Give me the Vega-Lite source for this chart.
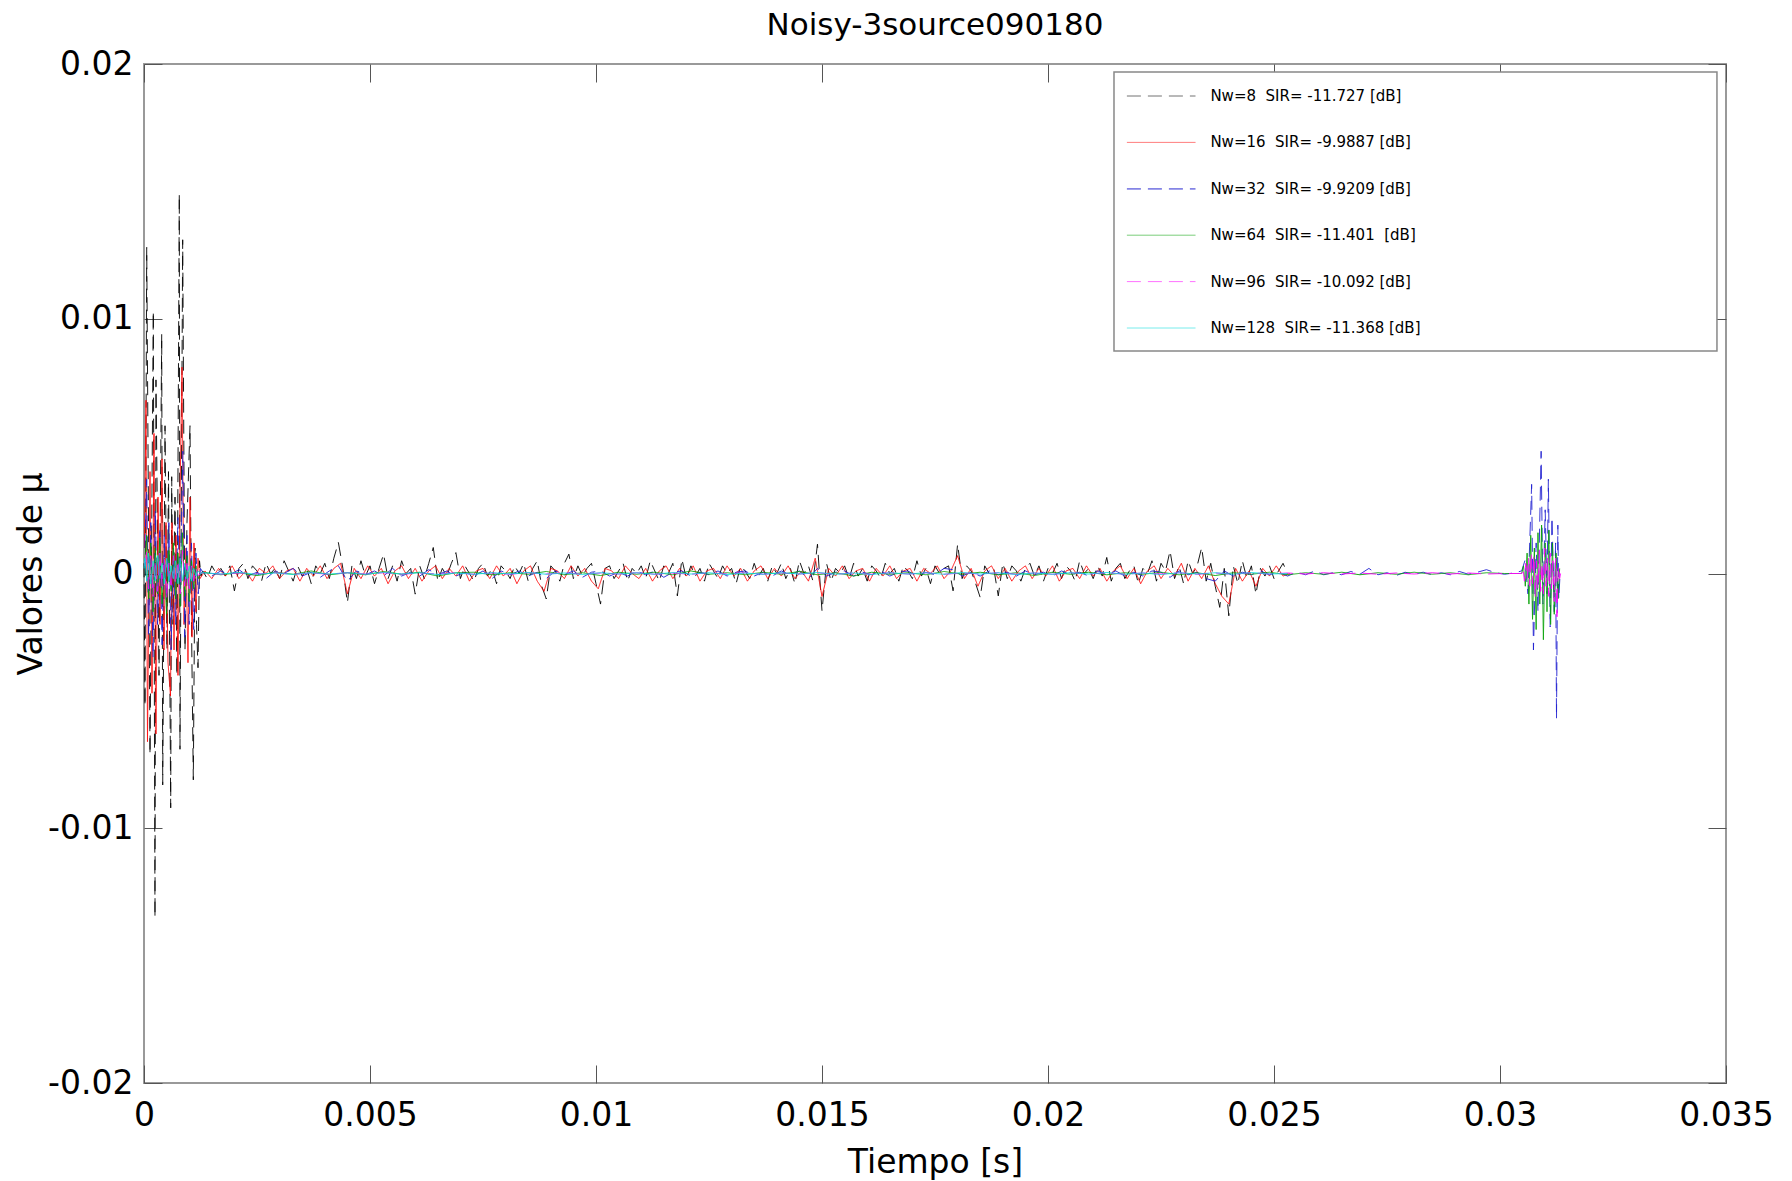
{
"$schema": "https://vega.github.io/schema/vega-lite/v6.json",
"width": 1582,
"height": 1019,
"autosize": {"type": "none"},
"padding": {"left": 144, "top": 64, "right": 66, "bottom": 98},
"background": "white",
"title": {"text": "Noisy-3source090180", "fontSize": 31, "font": "DejaVu Sans", "fontWeight": "normal", "color": "#000000", "anchor": "middle", "frame": "group", "offset": 14, "dy": 32, "baseline": "alphabetic"},
"config": {
  "view": {"stroke": "#999999", "strokeWidth": 2},
  "font": "DejaVu Sans",
  "axis": {"grid": false, "domain": false, "labelFont": "DejaVu Sans", "titleFont": "DejaVu Sans", "labelFontSize": 33, "titleFontSize": 33, "labelColor": "#000000", "titleColor": "#000000", "titleFontWeight": "normal", "tickColor": "#555555", "tickWidth": 1, "tickSize": -18, "labelFlush": false, "labelOverlap": false}
},
"resolve": {"axis": {"x": "independent", "y": "independent"}},
"layer": [
{
"data": {"values": [{}]},
"mark": {"type": "rect", "fill": "white", "stroke": "#888888", "strokeWidth": 1.5},
"encoding": {
  "x": {"datum": 0.02146, "type": "quantitative", "axis": null},
  "x2": {"datum": 0.0348},
  "y": {"datum": 0.019686, "type": "quantitative", "axis": null},
  "y2": {"datum": 0.008734}
}
},
{
"data": {"values": [
{"s":"a","t":0,"v":0.0004},
{"s":"a","t":0.000022,"v":-0.0052},
{"s":"a","t":0.00006,"v":0.0128},
{"s":"a","t":0.000133,"v":-0.0071},
{"s":"a","t":0.000206,"v":0.0103},
{"s":"a","t":0.000243,"v":-0.0135},
{"s":"a","t":0.000265,"v":0.0076},
{"s":"a","t":0.000332,"v":-0.004},
{"s":"a","t":0.000392,"v":0.0094},
{"s":"a","t":0.000414,"v":-0.0083},
{"s":"a","t":0.000465,"v":0.0058},
{"s":"a","t":0.000509,"v":-0.003},
{"s":"a","t":0.000542,"v":0.004},
{"s":"a","t":0.000591,"v":-0.0092},
{"s":"a","t":0.000613,"v":0.0038},
{"s":"a","t":0.000642,"v":-0.002},
{"s":"a","t":0.000686,"v":0.003},
{"s":"a","t":0.00073,"v":-0.004},
{"s":"a","t":0.000781,"v":0.0149},
{"s":"a","t":0.000796,"v":-0.0069},
{"s":"a","t":0.000856,"v":0.0131},
{"s":"a","t":0.000907,"v":-0.003},
{"s":"a","t":0.000951,"v":0.002},
{"s":"a","t":0.001018,"v":0.0058},
{"s":"a","t":0.001051,"v":-0.002},
{"s":"a","t":0.001091,"v":-0.0081},
{"s":"a","t":0.001128,"v":0.001},
{"s":"a","t":0.001162,"v":-0.002},
{"s":"a","t":0.001195,"v":-0.0037},
{"s":"a","t":0.001228,"v":0.0005},
{"s":"a","t":0.001261,"v":-0.0001},
{"s":"a","t":0.0013,"v":0.0001},
{"s":"a","t":0.0014,"v":-0.0002},
{"s":"a","t":0.0015,"v":0.0003},
{"s":"a","t":0.0016,"v":0},
{"s":"a","t":0.0017,"v":0.0002},
{"s":"a","t":0.0018,"v":-0.0001},
{"s":"a","t":0.0019,"v":0.0003},
{"s":"a","t":0.002,"v":-0.00068},
{"s":"a","t":0.0021,"v":0.0002},
{"s":"a","t":0.0022,"v":0.0004},
{"s":"a","t":0.0023,"v":-0.0002},
{"s":"a","t":0.0024,"v":0.0003},
{"s":"a","t":0.0025,"v":0.0001},
{"s":"a","t":0.0026,"v":-0.0003},
{"s":"a","t":0.0027,"v":0.0004},
{"s":"a","t":0.0028,"v":0},
{"s":"a","t":0.0029,"v":0.0002},
{"s":"a","t":0.003,"v":-0.0002},
{"s":"a","t":0.0031,"v":0.0005},
{"s":"a","t":0.0032,"v":0.0001},
{"s":"a","t":0.0033,"v":-0.0003},
{"s":"a","t":0.0034,"v":0.0003},
{"s":"a","t":0.0035,"v":-0.0001},
{"s":"a","t":0.0036,"v":0.0002},
{"s":"a","t":0.0037,"v":-0.0004},
{"s":"a","t":0.0038,"v":0.0003},
{"s":"a","t":0.0039,"v":0},
{"s":"a","t":0.004,"v":0.0004},
{"s":"a","t":0.0041,"v":-0.0002},
{"s":"a","t":0.0042,"v":0.0006},
{"s":"a","t":0.0043,"v":0.00122},
{"s":"a","t":0.0044,"v":0.0002},
{"s":"a","t":0.0045,"v":-0.00114},
{"s":"a","t":0.0046,"v":0.0003},
{"s":"a","t":0.0047,"v":-0.0002},
{"s":"a","t":0.0048,"v":0.0005},
{"s":"a","t":0.0049,"v":-0.0001},
{"s":"a","t":0.005,"v":0.0003},
{"s":"a","t":0.0051,"v":-0.0004},
{"s":"a","t":0.0052,"v":0.0002},
{"s":"a","t":0.0053,"v":0.00076},
{"s":"a","t":0.0054,"v":-0.0002},
{"s":"a","t":0.0055,"v":0.0003},
{"s":"a","t":0.0056,"v":-0.0003},
{"s":"a","t":0.0057,"v":0.0005},
{"s":"a","t":0.0058,"v":0},
{"s":"a","t":0.0059,"v":0.0002},
{"s":"a","t":0.006,"v":-0.00081},
{"s":"a","t":0.0061,"v":0.0003},
{"s":"a","t":0.0062,"v":-0.0002},
{"s":"a","t":0.0063,"v":0.0004},
{"s":"a","t":0.0064,"v":0.00102},
{"s":"a","t":0.0065,"v":-0.0003},
{"s":"a","t":0.0066,"v":0.0002},
{"s":"a","t":0.0067,"v":-0.0001},
{"s":"a","t":0.0068,"v":0.0004},
{"s":"a","t":0.0069,"v":0.00082},
{"s":"a","t":0.007,"v":-0.0002},
{"s":"a","t":0.0071,"v":0.0003},
{"s":"a","t":0.0072,"v":0},
{"s":"a","t":0.0073,"v":-0.0003},
{"s":"a","t":0.0074,"v":0.0002},
{"s":"a","t":0.0075,"v":0.0004},
{"s":"a","t":0.0076,"v":-0.0001},
{"s":"a","t":0.0077,"v":0.0002},
{"s":"a","t":0.0078,"v":-0.0004},
{"s":"a","t":0.0079,"v":0.0003},
{"s":"a","t":0.008,"v":0.0001},
{"s":"a","t":0.0081,"v":-0.0002},
{"s":"a","t":0.0082,"v":0.0003},
{"s":"a","t":0.0083,"v":0},
{"s":"a","t":0.0084,"v":0.0004},
{"s":"a","t":0.0085,"v":-0.0003},
{"s":"a","t":0.0086,"v":0.0002},
{"s":"a","t":0.0087,"v":0.0005},
{"s":"a","t":0.0088,"v":-0.0005},
{"s":"a","t":0.0089,"v":-0.001},
{"s":"a","t":0.009,"v":0.0003},
{"s":"a","t":0.0091,"v":0.0001},
{"s":"a","t":0.0092,"v":-0.0003},
{"s":"a","t":0.0093,"v":0.0004},
{"s":"a","t":0.0094,"v":0.00076},
{"s":"a","t":0.0095,"v":-0.0002},
{"s":"a","t":0.0096,"v":0.0003},
{"s":"a","t":0.0097,"v":-0.0001},
{"s":"a","t":0.0098,"v":0.0002},
{"s":"a","t":0.0099,"v":0.0004},
{"s":"a","t":0.01,"v":-0.0004},
{"s":"a","t":0.0101,"v":-0.0012},
{"s":"a","t":0.0102,"v":0.0002},
{"s":"a","t":0.0103,"v":0.0003},
{"s":"a","t":0.0104,"v":-0.0002},
{"s":"a","t":0.0105,"v":0.0001},
{"s":"a","t":0.0106,"v":0.0004},
{"s":"a","t":0.0107,"v":-0.0003},
{"s":"a","t":0.0108,"v":0.0002},
{"s":"a","t":0.0109,"v":0},
{"s":"a","t":0.011,"v":0.0003},
{"s":"a","t":0.0111,"v":-0.0002},
{"s":"a","t":0.0112,"v":0.0005},
{"s":"a","t":0.0113,"v":0.0001},
{"s":"a","t":0.0114,"v":-0.0003},
{"s":"a","t":0.0115,"v":0.0003},
{"s":"a","t":0.0116,"v":0},
{"s":"a","t":0.0117,"v":0.0004},
{"s":"a","t":0.0118,"v":-0.00088},
{"s":"a","t":0.0119,"v":0.00056},
{"s":"a","t":0.012,"v":-0.0002},
{"s":"a","t":0.0121,"v":0.0003},
{"s":"a","t":0.0122,"v":-0.0001},
{"s":"a","t":0.0123,"v":0.0002},
{"s":"a","t":0.0124,"v":-0.0003},
{"s":"a","t":0.0125,"v":0.0004},
{"s":"a","t":0.0126,"v":0.0001},
{"s":"a","t":0.0127,"v":-0.0002},
{"s":"a","t":0.0128,"v":0.0003},
{"s":"a","t":0.0129,"v":0},
{"s":"a","t":0.013,"v":0.0002},
{"s":"a","t":0.0131,"v":-0.0004},
{"s":"a","t":0.0132,"v":0.0003},
{"s":"a","t":0.0133,"v":0.0001},
{"s":"a","t":0.0134,"v":-0.0002},
{"s":"a","t":0.0135,"v":0.0004},
{"s":"a","t":0.0136,"v":-0.0001},
{"s":"a","t":0.0137,"v":0.0002},
{"s":"a","t":0.0138,"v":-0.0003},
{"s":"a","t":0.0139,"v":0.0003},
{"s":"a","t":0.014,"v":0},
{"s":"a","t":0.0141,"v":0.0004},
{"s":"a","t":0.0142,"v":-0.0002},
{"s":"a","t":0.0143,"v":0.0002},
{"s":"a","t":0.0144,"v":-0.0004},
{"s":"a","t":0.0145,"v":0.0005},
{"s":"a","t":0.0146,"v":0},
{"s":"a","t":0.0147,"v":0.0003},
{"s":"a","t":0.0148,"v":-0.0003},
{"s":"a","t":0.0149,"v":0.00115},
{"s":"a","t":0.015,"v":-0.00147},
{"s":"a","t":0.0151,"v":0.0004},
{"s":"a","t":0.0152,"v":-0.0003},
{"s":"a","t":0.0153,"v":0.0002},
{"s":"a","t":0.0154,"v":0},
{"s":"a","t":0.0155,"v":0.0003},
{"s":"a","t":0.0156,"v":-0.0002},
{"s":"a","t":0.0157,"v":0.0004},
{"s":"a","t":0.0158,"v":-0.0001},
{"s":"a","t":0.0159,"v":0.0002},
{"s":"a","t":0.016,"v":-0.0003},
{"s":"a","t":0.0161,"v":0.0003},
{"s":"a","t":0.0162,"v":0.0001},
{"s":"a","t":0.0163,"v":-0.0002},
{"s":"a","t":0.0164,"v":0.0004},
{"s":"a","t":0.0165,"v":0},
{"s":"a","t":0.0166,"v":0.0002},
{"s":"a","t":0.0167,"v":-0.0003},
{"s":"a","t":0.0168,"v":0.0003},
{"s":"a","t":0.0169,"v":0.0001},
{"s":"a","t":0.017,"v":-0.0002},
{"s":"a","t":0.0171,"v":0.0005},
{"s":"a","t":0.0172,"v":-0.0001},
{"s":"a","t":0.0173,"v":0.0002},
{"s":"a","t":0.0174,"v":-0.0004},
{"s":"a","t":0.0175,"v":0.0003},
{"s":"a","t":0.0176,"v":0},
{"s":"a","t":0.0177,"v":0.0002},
{"s":"a","t":0.0178,"v":0.0003},
{"s":"a","t":0.0179,"v":-0.00068},
{"s":"a","t":0.018,"v":0.00115},
{"s":"a","t":0.0181,"v":-0.0002},
{"s":"a","t":0.0182,"v":0.0003},
{"s":"a","t":0.0183,"v":0.0001},
{"s":"a","t":0.0184,"v":-0.0004},
{"s":"a","t":0.0185,"v":-0.00094},
{"s":"a","t":0.0186,"v":0.0003},
{"s":"a","t":0.0187,"v":0},
{"s":"a","t":0.0188,"v":0.0002},
{"s":"a","t":0.0189,"v":-0.00088},
{"s":"a","t":0.019,"v":0.0004},
{"s":"a","t":0.0191,"v":-0.0002},
{"s":"a","t":0.0192,"v":0.0003},
{"s":"a","t":0.0193,"v":0.0001},
{"s":"a","t":0.0194,"v":-0.0003},
{"s":"a","t":0.0195,"v":0.0002},
{"s":"a","t":0.0196,"v":0.0004},
{"s":"a","t":0.0197,"v":-0.0001},
{"s":"a","t":0.0198,"v":0.0003},
{"s":"a","t":0.0199,"v":-0.0003},
{"s":"a","t":0.02,"v":0.0002},
{"s":"a","t":0.0201,"v":0},
{"s":"a","t":0.0202,"v":0.0004},
{"s":"a","t":0.0203,"v":-0.0002},
{"s":"a","t":0.0204,"v":0.0003},
{"s":"a","t":0.0205,"v":0.0001},
{"s":"a","t":0.0206,"v":-0.0003},
{"s":"a","t":0.0207,"v":0.0005},
{"s":"a","t":0.0208,"v":0},
{"s":"a","t":0.0209,"v":0.0002},
{"s":"a","t":0.021,"v":-0.0002},
{"s":"a","t":0.0211,"v":0.0003},
{"s":"a","t":0.0212,"v":-0.0001},
{"s":"a","t":0.0213,"v":0.00063},
{"s":"a","t":0.0214,"v":-0.0003},
{"s":"a","t":0.0215,"v":0.0002},
{"s":"a","t":0.0216,"v":0.0004},
{"s":"a","t":0.0217,"v":-0.0002},
{"s":"a","t":0.0218,"v":0.0001},
{"s":"a","t":0.0219,"v":0.0003},
{"s":"a","t":0.022,"v":-0.0004},
{"s":"a","t":0.0221,"v":0.0002},
{"s":"a","t":0.0222,"v":0},
{"s":"a","t":0.0223,"v":0.0005},
{"s":"a","t":0.0224,"v":-0.0003},
{"s":"a","t":0.0225,"v":0.0004},
{"s":"a","t":0.0226,"v":0.0001},
{"s":"a","t":0.0227,"v":0.00089},
{"s":"a","t":0.0228,"v":-0.0002},
{"s":"a","t":0.0229,"v":0.0003},
{"s":"a","t":0.023,"v":-0.0004},
{"s":"a","t":0.0231,"v":0.0005},
{"s":"a","t":0.0232,"v":0},
{"s":"a","t":0.0233,"v":0.0003},
{"s":"a","t":0.0234,"v":0.00102},
{"s":"a","t":0.0235,"v":-0.0003},
{"s":"a","t":0.0236,"v":0.0004},
{"s":"a","t":0.0237,"v":-0.0005},
{"s":"a","t":0.0238,"v":-0.00133},
{"s":"a","t":0.0239,"v":0.0002},
{"s":"a","t":0.024,"v":-0.00166},
{"s":"a","t":0.0241,"v":0.0003},
{"s":"a","t":0.0242,"v":-0.0004},
{"s":"a","t":0.0243,"v":0.0005},
{"s":"a","t":0.0244,"v":-0.0002},
{"s":"a","t":0.0245,"v":0.0003},
{"s":"a","t":0.0246,"v":-0.00081},
{"s":"a","t":0.0247,"v":0.0002},
{"s":"a","t":0.0248,"v":-0.0001},
{"s":"a","t":0.0249,"v":0.0003},
{"s":"a","t":0.025,"v":-0.0002},
{"s":"a","t":0.0251,"v":0.0001},
{"s":"a","t":0.0252,"v":0.0004},
{"s":"a","t":0.0253,"v":0},
{"s":"b","t":0.00001,"v":0.001},
{"s":"b","t":0.000044,"v":0.0068},
{"s":"b","t":0.000077,"v":-0.0066},
{"s":"b","t":0.000133,"v":0.004},
{"s":"b","t":0.000177,"v":-0.0047},
{"s":"b","t":0.000221,"v":0.0055},
{"s":"b","t":0.000265,"v":-0.0063},
{"s":"b","t":0.00031,"v":0.003},
{"s":"b","t":0.000354,"v":-0.002},
{"s":"b","t":0.000398,"v":0.0045},
{"s":"b","t":0.000442,"v":-0.003},
{"s":"b","t":0.000487,"v":0.002},
{"s":"b","t":0.000531,"v":-0.0035},
{"s":"b","t":0.000586,"v":-0.0048},
{"s":"b","t":0.000619,"v":0.002},
{"s":"b","t":0.000664,"v":-0.003},
{"s":"b","t":0.000708,"v":0.0015},
{"s":"b","t":0.000752,"v":-0.004},
{"s":"b","t":0.000796,"v":0.003},
{"s":"b","t":0.000841,"v":0.0081},
{"s":"b","t":0.000885,"v":-0.002},
{"s":"b","t":0.000929,"v":0.001},
{"s":"b","t":0.000973,"v":-0.0035},
{"s":"b","t":0.001018,"v":0.003},
{"s":"b","t":0.001062,"v":-0.0025},
{"s":"b","t":0.001106,"v":0.0012},
{"s":"b","t":0.00115,"v":-0.0015},
{"s":"b","t":0.001195,"v":0.0006},
{"s":"b","t":0.001239,"v":-0.0002},
{"s":"b","t":0.00135,"v":0.0001},
{"s":"b","t":0.0015,"v":-0.0002},
{"s":"b","t":0.00165,"v":0.0002},
{"s":"b","t":0.0018,"v":-0.0001},
{"s":"b","t":0.00195,"v":0.0003},
{"s":"b","t":0.0021,"v":-0.0002},
{"s":"b","t":0.00225,"v":0.0001},
{"s":"b","t":0.0024,"v":-0.0003},
{"s":"b","t":0.00255,"v":0.0002},
{"s":"b","t":0.0027,"v":0},
{"s":"b","t":0.00285,"v":0.0003},
{"s":"b","t":0.003,"v":-0.0002},
{"s":"b","t":0.00315,"v":0.0001},
{"s":"b","t":0.0033,"v":0.0002},
{"s":"b","t":0.00345,"v":-0.0003},
{"s":"b","t":0.0036,"v":0.0002},
{"s":"b","t":0.00375,"v":-0.0001},
{"s":"b","t":0.0039,"v":0.0003},
{"s":"b","t":0.00405,"v":-0.0002},
{"s":"b","t":0.0042,"v":0.0002},
{"s":"b","t":0.00435,"v":0.0004},
{"s":"b","t":0.0045,"v":-0.0008},
{"s":"b","t":0.00465,"v":0.0002},
{"s":"b","t":0.0048,"v":-0.0002},
{"s":"b","t":0.00495,"v":0.0003},
{"s":"b","t":0.0051,"v":-0.0001},
{"s":"b","t":0.00525,"v":0.0002},
{"s":"b","t":0.0054,"v":-0.0004},
{"s":"b","t":0.00555,"v":0.0001},
{"s":"b","t":0.0057,"v":0.0003},
{"s":"b","t":0.00585,"v":-0.0002},
{"s":"b","t":0.006,"v":0.0002},
{"s":"b","t":0.00615,"v":-0.0003},
{"s":"b","t":0.0063,"v":0.0001},
{"s":"b","t":0.00645,"v":0.0003},
{"s":"b","t":0.0066,"v":-0.0002},
{"s":"b","t":0.00675,"v":0.0002},
{"s":"b","t":0.0069,"v":-0.0001},
{"s":"b","t":0.00705,"v":0.0003},
{"s":"b","t":0.0072,"v":-0.0003},
{"s":"b","t":0.00735,"v":0.0001},
{"s":"b","t":0.0075,"v":0.0002},
{"s":"b","t":0.00765,"v":-0.0002},
{"s":"b","t":0.0078,"v":0.0003},
{"s":"b","t":0.00795,"v":-0.0001},
{"s":"b","t":0.0081,"v":0.0002},
{"s":"b","t":0.00825,"v":-0.0004},
{"s":"b","t":0.0084,"v":0.0001},
{"s":"b","t":0.00855,"v":0.0003},
{"s":"b","t":0.0087,"v":-0.0003},
{"s":"b","t":0.00885,"v":-0.0007},
{"s":"b","t":0.009,"v":0.0002},
{"s":"b","t":0.00915,"v":0.0001},
{"s":"b","t":0.0093,"v":-0.0002},
{"s":"b","t":0.00945,"v":0.0003},
{"s":"b","t":0.0096,"v":-0.0001},
{"s":"b","t":0.00975,"v":0.0002},
{"s":"b","t":0.0099,"v":-0.0003},
{"s":"b","t":0.01005,"v":-0.0006},
{"s":"b","t":0.0102,"v":0.0002},
{"s":"b","t":0.01035,"v":0.0001},
{"s":"b","t":0.0105,"v":-0.0002},
{"s":"b","t":0.01065,"v":0.0003},
{"s":"b","t":0.0108,"v":0},
{"s":"b","t":0.01095,"v":-0.0002},
{"s":"b","t":0.0111,"v":0.0002},
{"s":"b","t":0.01125,"v":-0.0003},
{"s":"b","t":0.0114,"v":0.0001},
{"s":"b","t":0.01155,"v":0.0003},
{"s":"b","t":0.0117,"v":-0.0002},
{"s":"b","t":0.01185,"v":0.0002},
{"s":"b","t":0.012,"v":-0.0001},
{"s":"b","t":0.01215,"v":0.0003},
{"s":"b","t":0.0123,"v":-0.0003},
{"s":"b","t":0.01245,"v":0.0001},
{"s":"b","t":0.0126,"v":0.0002},
{"s":"b","t":0.01275,"v":-0.0002},
{"s":"b","t":0.0129,"v":0.0003},
{"s":"b","t":0.01305,"v":-0.0001},
{"s":"b","t":0.0132,"v":0.0002},
{"s":"b","t":0.01335,"v":-0.0003},
{"s":"b","t":0.0135,"v":0.0001},
{"s":"b","t":0.01365,"v":0.0003},
{"s":"b","t":0.0138,"v":-0.0002},
{"s":"b","t":0.01395,"v":0.0002},
{"s":"b","t":0.0141,"v":-0.0001},
{"s":"b","t":0.01425,"v":0.0003},
{"s":"b","t":0.0144,"v":-0.0002},
{"s":"b","t":0.01455,"v":0.0001},
{"s":"b","t":0.0147,"v":-0.0003},
{"s":"b","t":0.01485,"v":0.0006},
{"s":"b","t":0.015,"v":-0.0009},
{"s":"b","t":0.01515,"v":0.0002},
{"s":"b","t":0.0153,"v":-0.0001},
{"s":"b","t":0.01545,"v":0.0003},
{"s":"b","t":0.0156,"v":-0.0002},
{"s":"b","t":0.01575,"v":0.0001},
{"s":"b","t":0.0159,"v":0.0002},
{"s":"b","t":0.01605,"v":-0.0003},
{"s":"b","t":0.0162,"v":0.0002},
{"s":"b","t":0.01635,"v":-0.0001},
{"s":"b","t":0.0165,"v":0.0003},
{"s":"b","t":0.01665,"v":-0.0002},
{"s":"b","t":0.0168,"v":0.0001},
{"s":"b","t":0.01695,"v":0.0002},
{"s":"b","t":0.0171,"v":-0.0003},
{"s":"b","t":0.01725,"v":0.0002},
{"s":"b","t":0.0174,"v":0},
{"s":"b","t":0.01755,"v":0.0003},
{"s":"b","t":0.0177,"v":-0.0002},
{"s":"b","t":0.01785,"v":0.0001},
{"s":"b","t":0.018,"v":0.0007},
{"s":"b","t":0.01815,"v":-0.0002},
{"s":"b","t":0.0183,"v":0.0002},
{"s":"b","t":0.01845,"v":-0.0005},
{"s":"b","t":0.0186,"v":0.0001},
{"s":"b","t":0.01875,"v":0.0003},
{"s":"b","t":0.0189,"v":-0.0002},
{"s":"b","t":0.01905,"v":0.0002},
{"s":"b","t":0.0192,"v":-0.0003},
{"s":"b","t":0.01935,"v":0.0001},
{"s":"b","t":0.0195,"v":0.0003},
{"s":"b","t":0.01965,"v":-0.0002},
{"s":"b","t":0.0198,"v":0.0002},
{"s":"b","t":0.01995,"v":-0.0001},
{"s":"b","t":0.0201,"v":0.0003},
{"s":"b","t":0.02025,"v":-0.0003},
{"s":"b","t":0.0204,"v":0.0001},
{"s":"b","t":0.02055,"v":0.0002},
{"s":"b","t":0.0207,"v":-0.0002},
{"s":"b","t":0.02085,"v":0.0003},
{"s":"b","t":0.021,"v":-0.0001},
{"s":"b","t":0.02115,"v":0.0002},
{"s":"b","t":0.0213,"v":-0.0003},
{"s":"b","t":0.02145,"v":0.0001},
{"s":"b","t":0.0216,"v":0.0003},
{"s":"b","t":0.02175,"v":-0.0002},
{"s":"b","t":0.0219,"v":0.0002},
{"s":"b","t":0.02205,"v":-0.0004},
{"s":"b","t":0.0222,"v":0.0001},
{"s":"b","t":0.02235,"v":0.0003},
{"s":"b","t":0.0225,"v":-0.0002},
{"s":"b","t":0.02265,"v":0.0002},
{"s":"b","t":0.0228,"v":-0.0001},
{"s":"b","t":0.02295,"v":0.0004},
{"s":"b","t":0.0231,"v":-0.0003},
{"s":"b","t":0.02325,"v":0.0002},
{"s":"b","t":0.0234,"v":-0.0002},
{"s":"b","t":0.02355,"v":0.0003},
{"s":"b","t":0.0237,"v":-0.0004},
{"s":"b","t":0.02385,"v":-0.0009},
{"s":"b","t":0.024,"v":-0.0012},
{"s":"b","t":0.02415,"v":0.0002},
{"s":"b","t":0.0243,"v":-0.0003},
{"s":"b","t":0.02445,"v":0.0001},
{"s":"b","t":0.0246,"v":-0.0005},
{"s":"b","t":0.02475,"v":0.0002},
{"s":"b","t":0.0249,"v":-0.0001},
{"s":"b","t":0.02505,"v":0.0003},
{"s":"b","t":0.0252,"v":-0.0001},
{"s":"b","t":0.02535,"v":0},
{"s":"c","t":0.00002,"v":0.001},
{"s":"c","t":0.00006,"v":0.0037},
{"s":"c","t":0.0001,"v":-0.0025},
{"s":"c","t":0.00015,"v":0.002},
{"s":"c","t":0.0002,"v":-0.0033},
{"s":"c","t":0.00025,"v":0.0025},
{"s":"c","t":0.0003,"v":-0.002},
{"s":"c","t":0.00035,"v":0.0018},
{"s":"c","t":0.0004,"v":-0.0028},
{"s":"c","t":0.00045,"v":0.0015},
{"s":"c","t":0.0005,"v":-0.0015},
{"s":"c","t":0.00055,"v":0.002},
{"s":"c","t":0.0006,"v":-0.003},
{"s":"c","t":0.00065,"v":0.001},
{"s":"c","t":0.0007,"v":-0.002},
{"s":"c","t":0.00075,"v":0.0022},
{"s":"c","t":0.0008,"v":-0.0012},
{"s":"c","t":0.00086,"v":0.0048},
{"s":"c","t":0.0009,"v":-0.0025},
{"s":"c","t":0.00095,"v":0.0015},
{"s":"c","t":0.001,"v":-0.002},
{"s":"c","t":0.00105,"v":0.0012},
{"s":"c","t":0.0011,"v":-0.0022},
{"s":"c","t":0.00115,"v":0.0008},
{"s":"c","t":0.0012,"v":-0.0008},
{"s":"c","t":0.00125,"v":0.0002},
{"s":"c","t":0.0013,"v":0.00005},
{"s":"c","t":0.0015,"v":-0.0001},
{"s":"c","t":0.0017,"v":0.0001},
{"s":"c","t":0.0019,"v":-0.00005},
{"s":"c","t":0.0021,"v":0.00015},
{"s":"c","t":0.0023,"v":-0.0001},
{"s":"c","t":0.0025,"v":0.00005},
{"s":"c","t":0.0027,"v":-0.0002},
{"s":"c","t":0.0029,"v":0.0001},
{"s":"c","t":0.0031,"v":0},
{"s":"c","t":0.0033,"v":0.0002},
{"s":"c","t":0.0035,"v":-0.0001},
{"s":"c","t":0.0037,"v":0.00005},
{"s":"c","t":0.0039,"v":-0.00015},
{"s":"c","t":0.0041,"v":0.0001},
{"s":"c","t":0.0043,"v":0.0003},
{"s":"c","t":0.0045,"v":-0.0003},
{"s":"c","t":0.0047,"v":0.0001},
{"s":"c","t":0.0049,"v":-0.00005},
{"s":"c","t":0.0051,"v":0.0001},
{"s":"c","t":0.0053,"v":-0.0001},
{"s":"c","t":0.0055,"v":0.0002},
{"s":"c","t":0.0057,"v":-0.0001},
{"s":"c","t":0.0059,"v":0.00005},
{"s":"c","t":0.0061,"v":-0.0001},
{"s":"c","t":0.0063,"v":0.00015},
{"s":"c","t":0.0065,"v":-0.00005},
{"s":"c","t":0.0067,"v":0.0001},
{"s":"c","t":0.0069,"v":-0.0001},
{"s":"c","t":0.0071,"v":0.00005},
{"s":"c","t":0.0073,"v":-0.0001},
{"s":"c","t":0.0075,"v":0.0001},
{"s":"c","t":0.0077,"v":-0.0002},
{"s":"c","t":0.0079,"v":0.0001},
{"s":"c","t":0.0081,"v":-0.00005},
{"s":"c","t":0.0083,"v":0.0001},
{"s":"c","t":0.0085,"v":-0.0001},
{"s":"c","t":0.0087,"v":0.00005},
{"s":"c","t":0.0089,"v":-0.0002},
{"s":"c","t":0.0091,"v":0.0001},
{"s":"c","t":0.0093,"v":-0.00005},
{"s":"c","t":0.0095,"v":0.0001},
{"s":"c","t":0.0097,"v":-0.00015},
{"s":"c","t":0.0099,"v":0.00005},
{"s":"c","t":0.0101,"v":0.0001},
{"s":"c","t":0.0103,"v":-0.0001},
{"s":"c","t":0.0105,"v":0.00005},
{"s":"c","t":0.0107,"v":-0.0001},
{"s":"c","t":0.0109,"v":0.0001},
{"s":"c","t":0.0111,"v":-0.00005},
{"s":"c","t":0.0113,"v":0.0001},
{"s":"c","t":0.0115,"v":-0.00015},
{"s":"c","t":0.0117,"v":0.00005},
{"s":"c","t":0.0119,"v":0.0001},
{"s":"c","t":0.0121,"v":-0.0001},
{"s":"c","t":0.0123,"v":0.00005},
{"s":"c","t":0.0125,"v":-0.00005},
{"s":"c","t":0.0127,"v":0.0001},
{"s":"c","t":0.0129,"v":-0.0001},
{"s":"c","t":0.0131,"v":0.00005},
{"s":"c","t":0.0133,"v":0.0001},
{"s":"c","t":0.0135,"v":-0.0001},
{"s":"c","t":0.0137,"v":0.00005},
{"s":"c","t":0.0139,"v":-0.0001},
{"s":"c","t":0.0141,"v":0.0001},
{"s":"c","t":0.0143,"v":-0.00005},
{"s":"c","t":0.0145,"v":0.0001},
{"s":"c","t":0.0147,"v":-0.0002},
{"s":"c","t":0.0149,"v":0.0002},
{"s":"c","t":0.0151,"v":-0.0001},
{"s":"c","t":0.0153,"v":0.00005},
{"s":"c","t":0.0155,"v":0.0001},
{"s":"c","t":0.0157,"v":-0.0001},
{"s":"c","t":0.0159,"v":0.00005},
{"s":"c","t":0.0161,"v":-0.00005},
{"s":"c","t":0.0163,"v":0.0001},
{"s":"c","t":0.0165,"v":-0.0001},
{"s":"c","t":0.0167,"v":0.00005},
{"s":"c","t":0.0169,"v":0.0001},
{"s":"c","t":0.0171,"v":-0.0001},
{"s":"c","t":0.0173,"v":0.00005},
{"s":"c","t":0.0175,"v":-0.00005},
{"s":"c","t":0.0177,"v":0.0002},
{"s":"c","t":0.0179,"v":0.00015},
{"s":"c","t":0.0181,"v":-0.0001},
{"s":"c","t":0.0183,"v":0.00005},
{"s":"c","t":0.0185,"v":-0.0001},
{"s":"c","t":0.0187,"v":0.0001},
{"s":"c","t":0.0189,"v":-0.00005},
{"s":"c","t":0.0191,"v":0.00005},
{"s":"c","t":0.0193,"v":-0.0001},
{"s":"c","t":0.0195,"v":0.0001},
{"s":"c","t":0.0197,"v":-0.00005},
{"s":"c","t":0.0199,"v":0.00005},
{"s":"c","t":0.0201,"v":-0.0001},
{"s":"c","t":0.0203,"v":0.0001},
{"s":"c","t":0.0205,"v":-0.00005},
{"s":"c","t":0.0207,"v":0.00005},
{"s":"c","t":0.0209,"v":-0.0001},
{"s":"c","t":0.0211,"v":0.0001},
{"s":"c","t":0.0213,"v":-0.00005},
{"s":"c","t":0.0215,"v":0.0001},
{"s":"c","t":0.0217,"v":-0.0001},
{"s":"c","t":0.0219,"v":0.00005},
{"s":"c","t":0.0221,"v":-0.0001},
{"s":"c","t":0.0223,"v":0.0001},
{"s":"c","t":0.0225,"v":0.00005},
{"s":"c","t":0.0227,"v":-0.00015},
{"s":"c","t":0.0229,"v":0.0001},
{"s":"c","t":0.0231,"v":-0.00005},
{"s":"c","t":0.0233,"v":0.00005},
{"s":"c","t":0.0235,"v":-0.0002},
{"s":"c","t":0.0237,"v":-0.0003},
{"s":"c","t":0.0239,"v":0.0001},
{"s":"c","t":0.0241,"v":-0.0001},
{"s":"c","t":0.0243,"v":0.00005},
{"s":"c","t":0.0245,"v":-0.00005},
{"s":"c","t":0.0247,"v":0.0001},
{"s":"c","t":0.0249,"v":-0.00005},
{"s":"c","t":0.0251,"v":0.00005},
{"s":"c","t":0.0253,"v":-0.0001},
{"s":"c","t":0.0255,"v":0.00005},
{"s":"c","t":0.0257,"v":-0.00005},
{"s":"c","t":0.0259,"v":0.0001},
{"s":"c","t":0.0261,"v":-0.00005},
{"s":"c","t":0.0263,"v":0.00003},
{"s":"c","t":0.0265,"v":-0.00005},
{"s":"c","t":0.0267,"v":0.00008},
{"s":"c","t":0.0269,"v":-0.00003},
{"s":"c","t":0.0271,"v":0.0002},
{"s":"c","t":0.0273,"v":-0.00005},
{"s":"c","t":0.0275,"v":0.00003},
{"s":"c","t":0.0277,"v":-0.00008},
{"s":"c","t":0.0279,"v":0.00005},
{"s":"c","t":0.0281,"v":-0.00003},
{"s":"c","t":0.0283,"v":0.00005},
{"s":"c","t":0.0285,"v":-0.00005},
{"s":"c","t":0.0287,"v":0.00003},
{"s":"c","t":0.0289,"v":-0.00005},
{"s":"c","t":0.0291,"v":0.00008},
{"s":"c","t":0.0293,"v":-0.00003},
{"s":"c","t":0.0295,"v":0.00005},
{"s":"c","t":0.0297,"v":0.00015},
{"s":"c","t":0.0299,"v":0.00003},
{"s":"c","t":0.0301,"v":-0.00003},
{"s":"c","t":0.0303,"v":0.00002},
{"s":"c","t":0.03048,"v":0.0001},
{"s":"c","t":0.03055,"v":0.0005},
{"s":"c","t":0.03062,"v":-0.0008},
{"s":"c","t":0.0307,"v":0.0035},
{"s":"c","t":0.03074,"v":-0.003},
{"s":"c","t":0.0308,"v":0.0012},
{"s":"c","t":0.03084,"v":-0.0015},
{"s":"c","t":0.03091,"v":0.0048},
{"s":"c","t":0.03095,"v":-0.0012},
{"s":"c","t":0.031,"v":0.0025},
{"s":"c","t":0.03104,"v":-0.0008},
{"s":"c","t":0.03107,"v":0.0037},
{"s":"c","t":0.03111,"v":-0.0021},
{"s":"c","t":0.03115,"v":0.0022},
{"s":"c","t":0.0312,"v":-0.0015},
{"s":"c","t":0.03123,"v":0.0012},
{"s":"c","t":0.03125,"v":-0.0057},
{"s":"c","t":0.03128,"v":0.0019},
{"s":"c","t":0.0313,"v":-0.001},
{"s":"c","t":0.03133,"v":0},
{"s":"d","t":0.00002,"v":0.0005},
{"s":"d","t":0.00006,"v":0.0015},
{"s":"d","t":0.0001,"v":-0.001},
{"s":"d","t":0.00015,"v":0.0012},
{"s":"d","t":0.0002,"v":-0.0015},
{"s":"d","t":0.00025,"v":0.001},
{"s":"d","t":0.0003,"v":-0.0008},
{"s":"d","t":0.00035,"v":0.0014},
{"s":"d","t":0.0004,"v":-0.0012},
{"s":"d","t":0.00045,"v":0.0006},
{"s":"d","t":0.0005,"v":-0.0016},
{"s":"d","t":0.00055,"v":0.0009},
{"s":"d","t":0.0006,"v":-0.0007},
{"s":"d","t":0.00065,"v":0.0012},
{"s":"d","t":0.0007,"v":-0.001},
{"s":"d","t":0.00075,"v":0.0008},
{"s":"d","t":0.0008,"v":-0.0013},
{"s":"d","t":0.00085,"v":0.0016},
{"s":"d","t":0.0009,"v":-0.0009},
{"s":"d","t":0.00095,"v":0.0007},
{"s":"d","t":0.001,"v":-0.0011},
{"s":"d","t":0.00105,"v":0.0005},
{"s":"d","t":0.0011,"v":-0.0006},
{"s":"d","t":0.00115,"v":0.0003},
{"s":"d","t":0.0012,"v":-0.0002},
{"s":"d","t":0.00125,"v":0},
{"s":"d","t":0.0013,"v":0.00005},
{"s":"d","t":0.0017,"v":-0.00005},
{"s":"d","t":0.0021,"v":0.00003},
{"s":"d","t":0.0025,"v":-0.00008},
{"s":"d","t":0.0029,"v":0.00005},
{"s":"d","t":0.0033,"v":-0.00003},
{"s":"d","t":0.0037,"v":0.0001},
{"s":"d","t":0.0041,"v":-0.00005},
{"s":"d","t":0.0045,"v":0.00003},
{"s":"d","t":0.0049,"v":-0.00005},
{"s":"d","t":0.0053,"v":0.00008},
{"s":"d","t":0.0057,"v":-0.00003},
{"s":"d","t":0.0061,"v":0.00005},
{"s":"d","t":0.0065,"v":-0.0001},
{"s":"d","t":0.0069,"v":0.00003},
{"s":"d","t":0.0073,"v":0.00005},
{"s":"d","t":0.0077,"v":-0.00005},
{"s":"d","t":0.0081,"v":0.00003},
{"s":"d","t":0.0085,"v":-0.00003},
{"s":"d","t":0.0089,"v":0.00008},
{"s":"d","t":0.0093,"v":-0.00005},
{"s":"d","t":0.0097,"v":0.00003},
{"s":"d","t":0.0101,"v":-0.00008},
{"s":"d","t":0.0105,"v":0.00005},
{"s":"d","t":0.0109,"v":-0.00003},
{"s":"d","t":0.0113,"v":0.00005},
{"s":"d","t":0.0117,"v":-0.00005},
{"s":"d","t":0.0121,"v":0.0001},
{"s":"d","t":0.0125,"v":-0.00003},
{"s":"d","t":0.0129,"v":0.00003},
{"s":"d","t":0.0133,"v":-0.00005},
{"s":"d","t":0.0137,"v":0.00005},
{"s":"d","t":0.0141,"v":-0.00003},
{"s":"d","t":0.0145,"v":0.00008},
{"s":"d","t":0.0149,"v":-0.00005},
{"s":"d","t":0.0153,"v":0.00003},
{"s":"d","t":0.0157,"v":-0.0001},
{"s":"d","t":0.0161,"v":0.00005},
{"s":"d","t":0.0165,"v":-0.00003},
{"s":"d","t":0.0169,"v":0.00003},
{"s":"d","t":0.0173,"v":-0.00005},
{"s":"d","t":0.0177,"v":0.00008},
{"s":"d","t":0.0181,"v":-0.00003},
{"s":"d","t":0.0185,"v":0.00005},
{"s":"d","t":0.0189,"v":-0.00005},
{"s":"d","t":0.0193,"v":0.00003},
{"s":"d","t":0.0197,"v":-0.00008},
{"s":"d","t":0.0201,"v":0.00005},
{"s":"d","t":0.0205,"v":-0.00003},
{"s":"d","t":0.0209,"v":0.00005},
{"s":"d","t":0.0213,"v":-0.00005},
{"s":"d","t":0.0217,"v":0.00003},
{"s":"d","t":0.0221,"v":-0.00003},
{"s":"d","t":0.0225,"v":0.00005},
{"s":"d","t":0.0229,"v":-0.00005},
{"s":"d","t":0.0233,"v":0.00003},
{"s":"d","t":0.0237,"v":-0.00008},
{"s":"d","t":0.0241,"v":0.00003},
{"s":"d","t":0.0245,"v":-0.00003},
{"s":"d","t":0.0249,"v":0.00005},
{"s":"d","t":0.0253,"v":-0.00005},
{"s":"d","t":0.0257,"v":0.00003},
{"s":"d","t":0.0261,"v":-0.00003},
{"s":"d","t":0.0265,"v":0.00005},
{"s":"d","t":0.0269,"v":-0.00005},
{"s":"d","t":0.0273,"v":0.00003},
{"s":"d","t":0.0277,"v":-0.00003},
{"s":"d","t":0.0281,"v":0.00005},
{"s":"d","t":0.0285,"v":-0.00003},
{"s":"d","t":0.0289,"v":0.00003},
{"s":"d","t":0.0293,"v":-0.00005},
{"s":"d","t":0.0297,"v":0.00003},
{"s":"d","t":0.0301,"v":0},
{"s":"d","t":0.03048,"v":0},
{"s":"d","t":0.03052,"v":0.0003},
{"s":"d","t":0.03056,"v":-0.0005},
{"s":"d","t":0.0306,"v":0.0008},
{"s":"d","t":0.03064,"v":-0.0012},
{"s":"d","t":0.03068,"v":0.0015},
{"s":"d","t":0.03072,"v":-0.0018},
{"s":"d","t":0.03076,"v":0.001},
{"s":"d","t":0.0308,"v":-0.0022},
{"s":"d","t":0.03084,"v":0.0016},
{"s":"d","t":0.03088,"v":-0.0012},
{"s":"d","t":0.03092,"v":0.0019},
{"s":"d","t":0.03096,"v":-0.0026},
{"s":"d","t":0.031,"v":0.0012},
{"s":"d","t":0.03104,"v":-0.0015},
{"s":"d","t":0.03108,"v":0.0017},
{"s":"d","t":0.03112,"v":-0.002},
{"s":"d","t":0.03116,"v":0.0012},
{"s":"d","t":0.0312,"v":-0.0016},
{"s":"d","t":0.03124,"v":0.0008},
{"s":"d","t":0.03128,"v":-0.001},
{"s":"d","t":0.03132,"v":0.0002},
{"s":"e","t":0.00002,"v":0.0003},
{"s":"e","t":0.00006,"v":0.0009},
{"s":"e","t":0.0001,"v":-0.0006},
{"s":"e","t":0.00015,"v":0.0007},
{"s":"e","t":0.0002,"v":-0.0009},
{"s":"e","t":0.00025,"v":0.0005},
{"s":"e","t":0.0003,"v":-0.0007},
{"s":"e","t":0.00035,"v":0.0008},
{"s":"e","t":0.0004,"v":-0.0005},
{"s":"e","t":0.00045,"v":0.0006},
{"s":"e","t":0.0005,"v":-0.001},
{"s":"e","t":0.00055,"v":0.0004},
{"s":"e","t":0.0006,"v":-0.0006},
{"s":"e","t":0.00065,"v":0.0007},
{"s":"e","t":0.0007,"v":-0.0004},
{"s":"e","t":0.00075,"v":0.0005},
{"s":"e","t":0.0008,"v":-0.0008},
{"s":"e","t":0.00085,"v":0.0009},
{"s":"e","t":0.0009,"v":-0.0005},
{"s":"e","t":0.00095,"v":0.0004},
{"s":"e","t":0.001,"v":-0.0006},
{"s":"e","t":0.00105,"v":0.0003},
{"s":"e","t":0.0011,"v":-0.0003},
{"s":"e","t":0.00115,"v":0.0002},
{"s":"e","t":0.0012,"v":-0.0001},
{"s":"e","t":0.00125,"v":0},
{"s":"e","t":0.0013,"v":0.00003},
{"s":"e","t":0.0017,"v":-0.00003},
{"s":"e","t":0.0021,"v":0.00002},
{"s":"e","t":0.0025,"v":-0.00002},
{"s":"e","t":0.0029,"v":0.00003},
{"s":"e","t":0.0033,"v":-0.00003},
{"s":"e","t":0.0037,"v":0.00002},
{"s":"e","t":0.0041,"v":-0.00003},
{"s":"e","t":0.0045,"v":0.00003},
{"s":"e","t":0.0049,"v":-0.00002},
{"s":"e","t":0.0053,"v":0.00003},
{"s":"e","t":0.0057,"v":-0.00003},
{"s":"e","t":0.0061,"v":0.00002},
{"s":"e","t":0.0065,"v":-0.00002},
{"s":"e","t":0.0069,"v":0.00003},
{"s":"e","t":0.0073,"v":-0.00003},
{"s":"e","t":0.0077,"v":0.00002},
{"s":"e","t":0.0081,"v":-0.00003},
{"s":"e","t":0.0085,"v":0.00003},
{"s":"e","t":0.0089,"v":-0.00002},
{"s":"e","t":0.0093,"v":0.00003},
{"s":"e","t":0.0097,"v":-0.00003},
{"s":"e","t":0.0101,"v":0.00002},
{"s":"e","t":0.0105,"v":-0.00002},
{"s":"e","t":0.0109,"v":0.00003},
{"s":"e","t":0.0113,"v":-0.00003},
{"s":"e","t":0.0117,"v":0.00002},
{"s":"e","t":0.0121,"v":-0.00003},
{"s":"e","t":0.0125,"v":0.00003},
{"s":"e","t":0.0129,"v":-0.00002},
{"s":"e","t":0.0133,"v":0.00003},
{"s":"e","t":0.0137,"v":-0.00003},
{"s":"e","t":0.0141,"v":0.00002},
{"s":"e","t":0.0145,"v":-0.00002},
{"s":"e","t":0.0149,"v":0.00003},
{"s":"e","t":0.0153,"v":-0.00003},
{"s":"e","t":0.0157,"v":0.00002},
{"s":"e","t":0.0161,"v":-0.00003},
{"s":"e","t":0.0165,"v":0.00003},
{"s":"e","t":0.0169,"v":-0.00002},
{"s":"e","t":0.0173,"v":0.00003},
{"s":"e","t":0.0177,"v":-0.00003},
{"s":"e","t":0.0181,"v":0.00002},
{"s":"e","t":0.0185,"v":-0.00002},
{"s":"e","t":0.0189,"v":0.00003},
{"s":"e","t":0.0193,"v":-0.00003},
{"s":"e","t":0.0197,"v":0.00002},
{"s":"e","t":0.0201,"v":-0.00003},
{"s":"e","t":0.0205,"v":0.00003},
{"s":"e","t":0.0209,"v":-0.00002},
{"s":"e","t":0.0213,"v":0.00003},
{"s":"e","t":0.0217,"v":-0.00003},
{"s":"e","t":0.0221,"v":0.00002},
{"s":"e","t":0.0225,"v":-0.00002},
{"s":"e","t":0.0229,"v":0.00003},
{"s":"e","t":0.0233,"v":-0.00003},
{"s":"e","t":0.0237,"v":0.00002},
{"s":"e","t":0.0241,"v":-0.00003},
{"s":"e","t":0.0245,"v":0.00003},
{"s":"e","t":0.0249,"v":-0.00002},
{"s":"e","t":0.0253,"v":0.00002},
{"s":"e","t":0.0257,"v":-0.00002},
{"s":"e","t":0.0261,"v":0.00003},
{"s":"e","t":0.0265,"v":-0.00002},
{"s":"e","t":0.0269,"v":0.00002},
{"s":"e","t":0.0273,"v":-0.00003},
{"s":"e","t":0.0277,"v":0.00002},
{"s":"e","t":0.0281,"v":-0.00002},
{"s":"e","t":0.0285,"v":0.00003},
{"s":"e","t":0.0289,"v":-0.00002},
{"s":"e","t":0.0293,"v":0.00002},
{"s":"e","t":0.0297,"v":-0.00002},
{"s":"e","t":0.0301,"v":0},
{"s":"e","t":0.03048,"v":0},
{"s":"e","t":0.03051,"v":0.0002},
{"s":"e","t":0.03054,"v":-0.0003},
{"s":"e","t":0.03057,"v":0.0004},
{"s":"e","t":0.0306,"v":-0.0002},
{"s":"e","t":0.03063,"v":0.0006},
{"s":"e","t":0.03066,"v":-0.0005},
{"s":"e","t":0.03069,"v":0.0008},
{"s":"e","t":0.03072,"v":-0.0004},
{"s":"e","t":0.03075,"v":0.0007},
{"s":"e","t":0.03078,"v":-0.0009},
{"s":"e","t":0.03081,"v":0.0005},
{"s":"e","t":0.03084,"v":-0.0006},
{"s":"e","t":0.03087,"v":0.0009},
{"s":"e","t":0.0309,"v":-0.0007},
{"s":"e","t":0.03093,"v":0.0004},
{"s":"e","t":0.03096,"v":-0.0008},
{"s":"e","t":0.03099,"v":0.001},
{"s":"e","t":0.03102,"v":-0.0005},
{"s":"e","t":0.03105,"v":0.0006},
{"s":"e","t":0.03108,"v":-0.0009},
{"s":"e","t":0.03111,"v":0.0008},
{"s":"e","t":0.03114,"v":-0.0006},
{"s":"e","t":0.03117,"v":0.0005},
{"s":"e","t":0.0312,"v":-0.0011},
{"s":"e","t":0.03123,"v":0.0006},
{"s":"e","t":0.03126,"v":-0.0017},
{"s":"e","t":0.03129,"v":0.0003},
{"s":"e","t":0.03132,"v":-0.0002},
{"s":"e","t":0.03134,"v":0},
{"s":"f","t":0,"v":0.0002},
{"s":"f","t":0.00002,"v":0.0006},
{"s":"f","t":0.00006,"v":-0.0003},
{"s":"f","t":0.0001,"v":0.0008},
{"s":"f","t":0.00015,"v":-0.0004},
{"s":"f","t":0.0002,"v":0.0005},
{"s":"f","t":0.00025,"v":-0.0003},
{"s":"f","t":0.0003,"v":0.0007},
{"s":"f","t":0.00035,"v":-0.0002},
{"s":"f","t":0.0004,"v":0.0004},
{"s":"f","t":0.00045,"v":-0.0004},
{"s":"f","t":0.0005,"v":0.0006},
{"s":"f","t":0.00055,"v":-0.0003},
{"s":"f","t":0.0006,"v":0.0003},
{"s":"f","t":0.00065,"v":-0.0002},
{"s":"f","t":0.0007,"v":0.0005},
{"s":"f","t":0.00075,"v":-0.0004},
{"s":"f","t":0.0008,"v":0.0006},
{"s":"f","t":0.00085,"v":-0.0003},
{"s":"f","t":0.0009,"v":0.0004},
{"s":"f","t":0.00095,"v":-0.0002},
{"s":"f","t":0.001,"v":0.0003},
{"s":"f","t":0.00105,"v":-0.0003},
{"s":"f","t":0.0011,"v":0.0002},
{"s":"f","t":0.00115,"v":-0.0001},
{"s":"f","t":0.0012,"v":0.0001},
{"s":"f","t":0.00125,"v":0},
{"s":"f","t":0.0013,"v":0.00003},
{"s":"f","t":0.0017,"v":-0.00002},
{"s":"f","t":0.0021,"v":0.00004},
{"s":"f","t":0.0025,"v":-0.00003},
{"s":"f","t":0.0029,"v":0.00002},
{"s":"f","t":0.0033,"v":-0.00004},
{"s":"f","t":0.0037,"v":0.00003},
{"s":"f","t":0.0041,"v":-0.00002},
{"s":"f","t":0.0045,"v":0.00003},
{"s":"f","t":0.0049,"v":-0.00003},
{"s":"f","t":0.0053,"v":0.00004},
{"s":"f","t":0.0057,"v":-0.00002},
{"s":"f","t":0.0061,"v":0.00003},
{"s":"f","t":0.0065,"v":-0.00004},
{"s":"f","t":0.0069,"v":0.00002},
{"s":"f","t":0.0073,"v":-0.00003},
{"s":"f","t":0.0077,"v":0.00003},
{"s":"f","t":0.0081,"v":-0.00002},
{"s":"f","t":0.0085,"v":0.00004},
{"s":"f","t":0.0089,"v":-0.00003},
{"s":"f","t":0.0093,"v":0.00002},
{"s":"f","t":0.0097,"v":-0.00004},
{"s":"f","t":0.0101,"v":0.00003},
{"s":"f","t":0.0105,"v":-0.00002},
{"s":"f","t":0.0109,"v":0.00003},
{"s":"f","t":0.0113,"v":-0.00003},
{"s":"f","t":0.0117,"v":0.00004},
{"s":"f","t":0.0121,"v":-0.00002},
{"s":"f","t":0.0125,"v":0.00003},
{"s":"f","t":0.0129,"v":-0.00004},
{"s":"f","t":0.0133,"v":0.00002},
{"s":"f","t":0.0137,"v":-0.00003},
{"s":"f","t":0.0141,"v":0.00003},
{"s":"f","t":0.0145,"v":-0.00002},
{"s":"f","t":0.0149,"v":0.00004},
{"s":"f","t":0.0153,"v":-0.00003},
{"s":"f","t":0.0157,"v":0.00002},
{"s":"f","t":0.0161,"v":-0.00004},
{"s":"f","t":0.0165,"v":0.00003},
{"s":"f","t":0.0169,"v":-0.00002},
{"s":"f","t":0.0173,"v":0.00003},
{"s":"f","t":0.0177,"v":-0.00003},
{"s":"f","t":0.0181,"v":0.00004},
{"s":"f","t":0.0185,"v":-0.00002},
{"s":"f","t":0.0189,"v":0.00003},
{"s":"f","t":0.0193,"v":-0.00004},
{"s":"f","t":0.0197,"v":0.00002},
{"s":"f","t":0.0201,"v":-0.00003},
{"s":"f","t":0.0205,"v":0.00003},
{"s":"f","t":0.0209,"v":-0.00002},
{"s":"f","t":0.0213,"v":0.00004},
{"s":"f","t":0.0217,"v":-0.00003},
{"s":"f","t":0.0221,"v":0.00002},
{"s":"f","t":0.0225,"v":-0.00004},
{"s":"f","t":0.0229,"v":0.00003},
{"s":"f","t":0.0233,"v":-0.00002},
{"s":"f","t":0.0237,"v":0.00003},
{"s":"f","t":0.0241,"v":-0.00003},
{"s":"f","t":0.0245,"v":0.00004},
{"s":"f","t":0.0249,"v":-0.00002},
{"s":"f","t":0.0253,"v":0}
]},
"mark": {"type": "line", "strokeWidth": 1, "opacity": 0.9},
"encoding": {
  "x": {"field": "t", "type": "quantitative",
        "scale": {"domain": [0, 0.035], "nice": false, "zero": false},
        "axis": {"orient": "bottom", "values": [0, 0.005, 0.01, 0.015, 0.02, 0.025, 0.03, 0.035], "labelExpr": "'' + datum.value", "labelPadding": 34, "title": "Tiempo [s]", "titleX": 791, "titleY": 89, "titleBaseline": "alphabetic", "titleAlign": "center"}},
  "y": {"field": "v", "type": "quantitative",
        "scale": {"domain": [-0.02, 0.02], "nice": false, "zero": false},
        "axis": {"orient": "left", "values": [-0.02, -0.01, 0, 0.01, 0.02], "labelExpr": "'' + datum.value", "labelPadding": 29, "title": "Valores de μ", "titleX": -103, "titleY": 509.5, "titleAngle": -90, "titleBaseline": "alphabetic", "titleAlign": "center"}},
  "color": {"field": "s", "type": "nominal",
        "scale": {"domain": ["a", "b", "c", "d", "e", "f"], "range": ["#000000", "#ff0000", "#2020d0", "#00a000", "#ff00ff", "#00dddd"]},
        "legend": {"orient": "none", "legendX": 970, "legendY": 8, "title": null, "symbolType": "stroke", "symbolSize": 4706, "clipHeight": 44, "rowPadding": 2.4, "padding": 2, "symbolOffset": 9.7, "labelOffset": 13.7, "labelFont": "DejaVu Sans", "labelFontSize": 15, "labelColor": "#000000", "labelLimit": 1000, "symbolOpacity": 0.55,
          "labelExpr": "{'a':'Nw=8\u00a0\u00a0SIR= -11.727 [dB]','b':'Nw=16\u00a0\u00a0SIR= -9.9887 [dB]','c':'Nw=32\u00a0\u00a0SIR= -9.9209 [dB]','d':'Nw=64\u00a0\u00a0SIR= -11.401\u00a0\u00a0[dB]','e':'Nw=96\u00a0\u00a0SIR= -10.092 [dB]','f':'Nw=128\u00a0\u00a0SIR= -11.368 [dB]'}[datum.label]"}},
  "strokeDash": {"field": "s", "type": "nominal",
        "scale": {"domain": ["a", "b", "c", "d", "e", "f"], "range": [[14, 7], [1, 0], [14, 7], [1, 0], [14, 7], [1, 0]]},
        "legend": {"orient": "none", "legendX": 970, "legendY": 8, "title": null, "symbolType": "stroke", "symbolSize": 4706, "clipHeight": 44, "rowPadding": 2.4, "padding": 2, "symbolOffset": 9.7, "labelOffset": 13.7, "labelFont": "DejaVu Sans", "labelFontSize": 15, "labelColor": "#000000", "labelLimit": 1000, "symbolOpacity": 0.55,
          "labelExpr": "{'a':'Nw=8\u00a0\u00a0SIR= -11.727 [dB]','b':'Nw=16\u00a0\u00a0SIR= -9.9887 [dB]','c':'Nw=32\u00a0\u00a0SIR= -9.9209 [dB]','d':'Nw=64\u00a0\u00a0SIR= -11.401\u00a0\u00a0[dB]','e':'Nw=96\u00a0\u00a0SIR= -10.092 [dB]','f':'Nw=128\u00a0\u00a0SIR= -11.368 [dB]'}[datum.label]"}},
  "strokeWidth": {"field": "s", "type": "nominal",
        "scale": {"type": "ordinal", "domain": ["a", "b", "c", "d", "e", "f"], "range": [1, 1, 1.8, 1, 1, 1]},
        "legend": {"orient": "none", "legendX": 970, "legendY": 8, "title": null, "symbolType": "stroke", "symbolSize": 4706, "clipHeight": 44, "rowPadding": 2.4, "padding": 2, "symbolOffset": 9.7, "labelOffset": 13.7, "labelFont": "DejaVu Sans", "labelFontSize": 15, "labelColor": "#000000", "labelLimit": 1000, "symbolOpacity": 0.55,
          "labelExpr": "{'a':'Nw=8\u00a0\u00a0SIR= -11.727 [dB]','b':'Nw=16\u00a0\u00a0SIR= -9.9887 [dB]','c':'Nw=32\u00a0\u00a0SIR= -9.9209 [dB]','d':'Nw=64\u00a0\u00a0SIR= -11.401\u00a0\u00a0[dB]','e':'Nw=96\u00a0\u00a0SIR= -10.092 [dB]','f':'Nw=128\u00a0\u00a0SIR= -11.368 [dB]'}[datum.label]"}}
}
},
{
"data": {"values": [{}]},
"mark": {"type": "point", "opacity": 0},
"encoding": {
  "x": {"datum": 0, "type": "quantitative", "scale": {"domain": [0, 0.035], "nice": false, "zero": false},
        "axis": {"orient": "top", "values": [0, 0.005, 0.01, 0.015, 0.02, 0.025, 0.03, 0.035], "labels": false, "title": null}},
  "y": {"datum": 0, "type": "quantitative", "scale": {"domain": [-0.02, 0.02], "nice": false, "zero": false},
        "axis": {"orient": "right", "values": [-0.02, -0.01, 0, 0.01, 0.02], "labels": false, "title": null}}
}
}
]
}
